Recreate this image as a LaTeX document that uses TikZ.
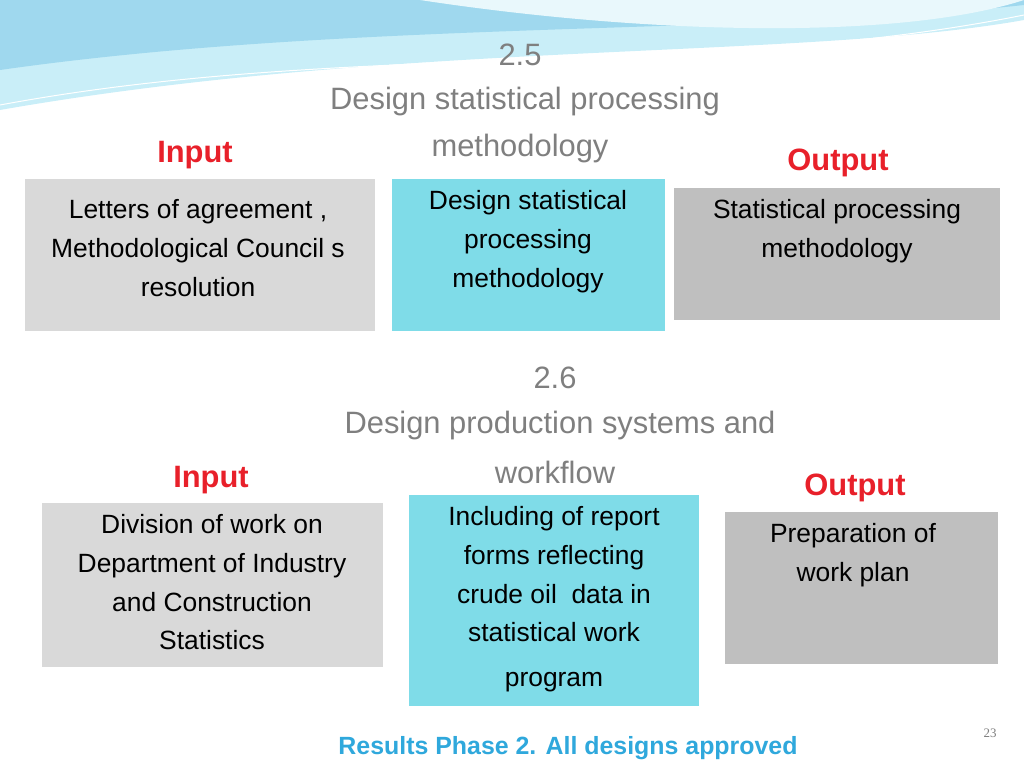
\documentclass[tikz,border=0pt]{standalone}
\usepackage{fontspec}
\setmainfont{Liberation Sans}
\newfontfamily\serifpg{Liberation Serif}
\usetikzlibrary{positioning}
\definecolor{inbox}{HTML}{D9D9D9}
\definecolor{outbox}{HTML}{BFBFBF}
\definecolor{procbox}{HTML}{7FDCE8}
\definecolor{redlab}{HTML}{E8202A}
\definecolor{footblue}{HTML}{2FA8DC}
\definecolor{titlegray}{HTML}{7F7F7F}
\definecolor{wavea}{HTML}{9FD8EE}
\definecolor{waveb}{HTML}{C9EEF8}
\tikzset{
  box/.style={inner sep=0pt},
  boxtext/.style={anchor=north, align=center, font={\fontsize{26.5}{39}\selectfont}, inner sep=0pt},
  io/.style={text=redlab, font={\fontsize{31}{34}\selectfont\bfseries}},
  ttl/.style={text=titlegray, font={\fontsize{31}{37}\selectfont}}
}
\begin{document}
\begin{tikzpicture}[x=1bp,y=-1bp]
\useasboundingbox (0,0) rectangle (1024,768);
% top banner
\fill[waveb] (0,0) -- (1024,0) -- (1024,20) .. controls (800,60) and (400,40) .. (0,110) -- cycle;
\fill[wavea] (0,0) -- (1024,0) -- (1024,5) .. controls (750,35) and (350,20) .. (0,70) -- cycle;
\fill[white!60!waveb] (420,0) -- (1024,0) .. controls (900,40) and (650,35) .. (420,0) -- cycle;
\draw[white, line width=1pt] (0,105) .. controls (350,40) and (700,80) .. (1024,15);
% 2.5
\node[ttl] (t1a) at (520,55) {2.5};
\node[ttl] (t1b) at (525,102) {Design statistical processing};
\node[ttl] (t1c) at (520,149) {methodology};
\node[io] (in1) at (195,155) {Input};
\node[io] (out1) at (838,163) {Output};
\fill[inbox] (25,179) rectangle (375,331);
\node[box] (b1) at (200,179) {};
\node[boxtext] (b1t) at (198,199) {Letters of agreement ,\\Methodological Council s\\resolution};
\fill[procbox] (392,179) rectangle (665,331);
\node[box] (p1) at (528,179) {};
\node[boxtext] (p1t) at (528,190) {Design statistical\\processing\\methodology};
\fill[outbox] (674,188) rectangle (1000,320);
\node[box] (o1) at (837,188) {};
\node[boxtext] (o1t) at (837,199) {Statistical processing\\methodology};
% 2.6
\node[ttl] (t2a) at (555,378) {2.6};
\node[ttl] (t2b) at (560,426) {Design production systems and};
\node[ttl] (t2c) at (555,472) {workflow};
\node[io] (in2) at (211,480) {Input};
\node[io] (out2) at (855,488) {Output};
\fill[inbox] (42,503) rectangle (383,667);
\node[box] (b2) at (212,503) {};
\node[boxtext] (b2t) at (212,514) {Division of work on\\Department of Industry\\and Construction\\Statistics};
\fill[procbox] (409,495) rectangle (699,706);
\node[box] (p2) at (554,495) {};
\node[boxtext] (p2t) at (554,506) {Including of report\\forms reflecting\\crude oil~ data in\\statistical work\\[6pt]program};
\fill[outbox] (725,512) rectangle (998,664);
\node[box] (o2) at (853,512) {};
\node[boxtext] (o2t) at (853,523) {Preparation of\\work plan};
% footer
\node[text=footblue, font={\fontsize{25}{28}\selectfont\bfseries}] (foot) at (568,748) {Results Phase 2. All designs approved};
\node[text=titlegray, font={\serifpg\fontsize{13}{15}\selectfont}] (pg) at (990,733) {23};
\end{tikzpicture}
\end{document}
